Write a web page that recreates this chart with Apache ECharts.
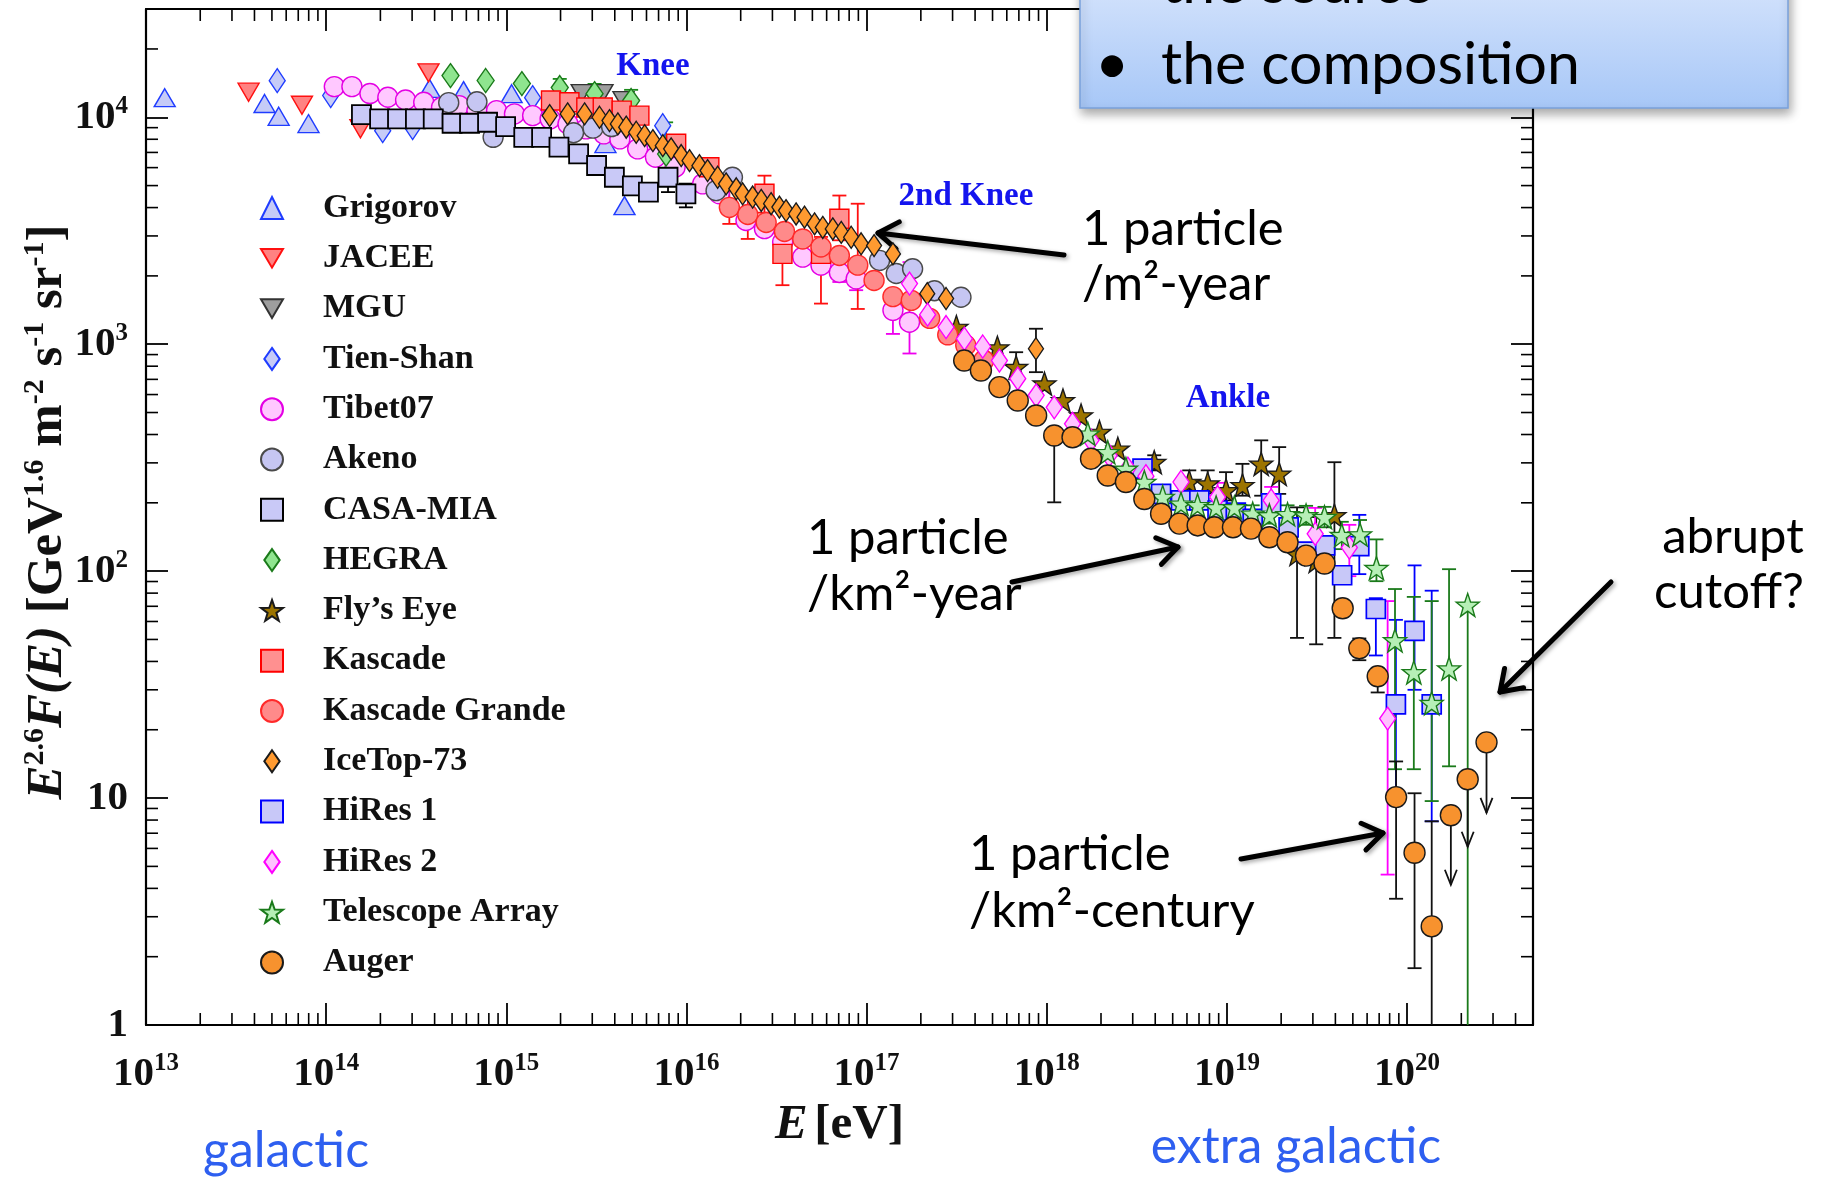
<!DOCTYPE html>
<html>
<head>
<meta charset="utf-8">
<script src="https://cdn.jsdelivr.net/npm/echarts/dist/echarts.min.js"></script>
<style>
  html, body { margin: 0; padding: 0; background: #ffffff; }
  #chart { width: 1826px; height: 1181px; }
</style>
</head>
<body>
<div id="chart"></div>
<script>
// ---- Axis ranges (energy in eV, flux scaled by E^2.6) ----
const X_MIN = 1e13, X_MAX = 5e20;
const Y_MIN = 1, Y_MAX = 3e4;

// ---- Measurements: [E (eV), E^2.6 F(E)] ----
const grigorov = [[1.27e13,12200],[4.55e13,11500],[5.45e13,10100],[7.98e13,9380],[3.75e14,13400],[5.79e14,13100],[1.07e15,12700],[3.55e15,7660],[4.53e15,4080]];
const jacee = [[3.71e13,12900],[7.34e13,11300],[1.55e14,8900],[3.70e14,15700]];
const mgu = [[2.62e15,12710],[3.42e15,12710],[4.47e15,11850]];
const tienShan = [[5.35e13,14500],[1.06e14,12470],[2.06e14,8730],[3.02e14,9010],[1.40e15,12200],[7.38e15,9180]];
const tibet07 = [[1.11e14,13650],[1.39e14,13650],[1.75e14,12720],[2.20e14,12250],[2.76e14,11920],[3.48e14,11640],[4.37e14,11070],[5.47e14,11260],[6.87e14,10700],[8.83e14,10700],[1.11e15,10350],[1.40e15,10170],[1.75e15,9840],[2.20e15,9350],[2.77e15,8890],[3.48e15,8450],[4.27e15,8030],[5.36e15,7260],[6.73e15,6670],[8.65e15,6020],[1.23e16,5090],[1.52e16,4600],[2.14e16,3510],[2.71e16,3230],[3.42e16,2820],[4.42e16,2420],[5.58e16,2230],[7.06e16,2070],[8.75e16,1940],[1.40e17,1410],[1.73e17,1250]];
const akeno = [[4.79e14,11600],[6.87e14,11700],[8.45e14,8160],[2.36e15,8550],[3.03e15,8960],[3.84e15,9100],[1.46e16,4750],[1.80e16,5440],[1.18e17,2340],[1.46e17,2050],[1.80e17,2150],[2.38e17,1720],[3.34e17,1610]];
const casaMia = [[1.57e14,10280],[1.98e14,9840],[2.49e14,9840],[3.13e14,9840],[3.93e14,9840],[5.00e14,9410],[6.25e14,9410],[7.87e14,9510],[9.91e14,9100],[1.25e15,8160],[1.57e15,8160],[1.96e15,7380],[2.52e15,6900],[3.17e15,6130],[3.98e15,5440],[5.01e15,4990],[6.15e15,4680],[7.90e15,5440],[9.93e15,4600]];
const hegra = [[4.90e14,15270],[7.68e14,14520],[1.22e15,14070],[1.98e15,13520],[3.09e15,12710],[4.93e15,11850],[7.71e15,6890]];
const flysEye = [[3.15e17,1190],[5.32e17,966],[6.76e17,792],[9.71e17,670],[1.23e18,565],[1.55e18,485],[1.96e18,410],[2.48e18,346],[3.95e18,302],[6.18e18,247],[7.82e18,243],[9.89e18,227],[1.22e19,239],[1.55e19,297],[1.95e19,268],[2.45e19,119],[3.13e19,111],[3.95e19,176]];
const kascade = [[1.77e15,11850],[2.24e15,11650],[2.78e15,11040],[3.43e15,11040],[4.37e15,10700],[5.48e15,10170],[8.77e15,7640],[1.34e16,6020],[2.71e16,4600],[3.41e16,2500],[5.58e16,2500],[7.06e16,3570]];
const kascadeGrande = [[1.73e16,4010],[2.19e16,3730],[2.77e16,3440],[3.50e16,3140],[4.42e16,2910],[5.58e16,2680],[7.06e16,2460],[8.93e16,2230],[1.10e17,1910],[1.40e17,1620],[1.77e17,1560],[2.24e17,1300],[2.82e17,1100],[3.55e17,990],[4.47e17,850]];
const iceTop73 = [[1.74e15,10170],[2.19e15,10350],[2.72e15,10350],[3.29e15,10000],[3.74e15,9670],[4.16e15,9350],[4.63e15,9040],[5.26e15,8590],[5.86e15,8300],[6.51e15,7890],[7.39e15,7500],[8.22e15,7260],[9.35e15,6780],[1.04e16,6440],[1.18e16,6120],[1.31e16,5820],[1.49e16,5440],[1.66e16,5090],[1.89e16,4840],[2.05e16,4600],[2.33e16,4450],[2.60e16,4300],[2.95e16,4160],[3.28e16,4020],[3.57e16,3880],[4.06e16,3750],[4.52e16,3630],[5.14e16,3390],[5.71e16,3270],[6.49e16,3220],[7.23e16,3110],[8.21e16,2960],[9.32e16,2770],[1.10e17,2720],[1.40e17,2500],[2.17e17,1670],[2.76e17,1590],[8.71e17,955]];
const hiRes1 = [[3.40e18,283],[4.31e18,219],[5.56e18,205],[7.03e18,205],[8.87e18,185],[1.12e19,181],[1.39e19,170],[1.76e19,199],[2.20e19,156],[2.77e19,122],[3.51e19,130],[4.36e19,95.9],[5.43e19,129],[6.71e19,68.1],[8.67e19,25.9],[1.10e20,54.6],[1.37e20,25.9]];
const hiRes2 = [[1.73e17,1850],[2.18e17,1350],[2.76e17,1190],[3.49e17,1057],[4.41e17,977],[5.46e17,847],[6.90e17,705],[8.73e17,595],[1.10e18,527],[1.39e18,446],[1.76e18,377],[2.22e18,323],[2.82e18,283],[3.55e18,262],[5.56e18,247],[8.87e18,212],[1.76e19,205],[3.09e19,146],[4.78e19,127],[7.80e19,22.4]];
const telescopeArray = [[1.69e18,403],[2.18e18,334],[2.75e18,282],[3.48e18,247],[4.40e18,212],[5.56e18,198],[6.87e18,195],[8.71e18,191],[1.10e19,191],[1.39e19,179],[1.72e19,176],[2.17e19,178],[2.75e19,176],[3.48e19,173],[4.34e19,144],[5.48e19,145],[6.76e19,103],[8.57e19,49.5],[1.09e20,35.8],[1.37e20,26.2],[1.71e20,37.2],[2.17e20,71]];
const auger = [[3.48e17,847],[4.31e17,766],[5.46e17,647],[6.90e17,565],[8.73e17,485],[1.10e18,396],[1.39e18,389],[1.76e18,313],[2.18e18,264],[2.75e18,247],[3.48e18,208],[4.31e18,179],[5.45e18,162],[6.88e18,159],[8.51e18,156],[1.08e19,156],[1.36e19,154],[1.72e19,141],[2.17e19,134],[2.75e19,117],[3.48e19,108],[4.39e19,68.6],[5.43e19,45.7],[6.87e19,34.4],[8.69e19,10.1],[1.10e20,5.74],[1.37e20,2.72],[1.75e20,8.4],[2.17e20,12.1],[2.76e20,17.6]];

// ---- Uncertainties: [E, lower, upper] ----
const tibet07Err = [[7.06e16,1880,2200],[8.75e16,1730,2100],[1.40e17,1110,1670],[1.73e17,910,1560]];
const casaMiaErr = [[7.90e15,4680,5900],[9.93e15,4010,5100]];
const hegraErr = [[1.98e15,12400,14760],[3.09e15,11500,14030],[4.93e15,10600,13210],[7.71e15,5090,9500]];
const flysEyeErr = [[6.76e17,700,922],[3.95e18,278,324],[6.18e18,225,278],[7.82e18,220,278],[9.89e18,205,273],[1.22e19,215,297],[1.55e19,215,377],[1.95e19,219,352],[2.45e19,50.8,191],[3.13e19,47.6,173],[3.95e19,50.8,302]];
const kascadeErr = [[2.71e16,3800,5530],[3.41e16,1820,3330],[5.58e16,1510,2970],[7.06e16,2870,4520]];
const kascadeGrandeErr = [[1.73e16,3390,4750],[2.19e16,2910,4520],[8.93e16,1430,4160]];
const iceTop73Err = [[8.71e17,753,1170]];
const hiRes1Err = [[5.43e19,97,177],[6.71e19,42.5,76],[8.67e19,9.3,61],[1.10e20,30,106],[1.37e20,7.9,82]];
const hiRes2Err = [[1.73e17,1455,2300],[8.87e18,185,245],[1.76e19,180,235],[3.09e19,115,190],[4.78e19,95,160],[7.80e19,4.6,73.8]];
const telescopeArrayErr = [[1.39e19,165,195],[1.72e19,162,192],[2.17e19,163,195],[2.75e19,160,194],[3.48e19,156,192],[4.34e19,125,165],[5.48e19,125,168],[6.76e19,90.3,138],[8.57e19,13.4,83.4],[1.09e20,13.4,77],[1.37e20,9.7,73.8],[1.71e20,13.8,102],[2.17e20,1,71]];
const augerErr = [[1.10e18,201,396],[5.43e19,40.5,50.5],[6.87e19,29.2,37.2],[8.69e19,3.6,14.5],[1.10e20,1.78,10.5],[1.37e20,1,7.9]];
// upper limits: [E, value, arrow end]
const augerLimits = [[1.75e20,8.4,4.15],[2.17e20,12.1,6.1],[2.76e20,17.6,8.6]];

// ---- Tick labels ----
const xDecades = [13, 14, 15, 16, 17, 18, 19, 20];
const yDecades = [0, 1, 2, 3, 4];

// minor tick positions (2..9 x 10^n) inside the axis ranges
const minorX = [];
xDecades.forEach(d => { for (let m = 2; m <= 9; m++) { const v = m * Math.pow(10, d); if (v <= X_MAX) minorX.push([v, Y_MIN]); } });
const minorY = [];
yDecades.forEach(d => { for (let m = 2; m <= 9; m++) { const v = m * Math.pow(10, d); if (v <= Y_MAX) minorY.push([X_MIN, v]); } });

const SERIF = 'Liberation Serif, Times New Roman, serif';
const HAND = 'Lato, Open Sans, sans-serif';

const DOWN_TRI = 'path://M0,0L20,0L10,17Z';
const DIAMOND = 'path://M7,0L14,10L7,20L0,10Z';
const STAR = 'path://M10,0L12.35,6.76L19.51,6.91L13.8,11.24L15.88,18.09L10,14L4.12,18.09L6.2,11.24L0.49,6.91L7.65,6.76Z';

function pts(name, data, symbol, size, fill, stroke, bw) {
  return {
    type: 'scatter', name, data, symbol, symbolSize: size,
    itemStyle: { color: fill, borderColor: stroke, borderWidth: bw || 1.4, opacity: 1 },
    emphasis: { disabled: true }, silent: true, z: 3
  };
}

function errBars(name, data, color, cap) {
  return {
    type: 'custom', name: name + ' errors', data, silent: true, z: 3,
    encode: { x: 0, y: [1, 2] },
    renderItem: function (params, api) {
      const x = api.value(0), lo = api.value(1), hi = api.value(2);
      const a = api.coord([x, hi]), b = api.coord([x, lo]);
      const st = { stroke: color, lineWidth: 1.8 };
      const ch = [{ type: 'line', shape: { x1: a[0], y1: a[1], x2: b[0], y2: b[1] }, style: st }];
      const w = cap || 7;
      ch.push({ type: 'line', shape: { x1: a[0] - w, y1: a[1], x2: a[0] + w, y2: a[1] }, style: st });
      if (lo > Y_MIN) ch.push({ type: 'line', shape: { x1: b[0] - w, y1: b[1], x2: b[0] + w, y2: b[1] }, style: st });
      return { type: 'group', children: ch };
    }
  };
}

function limitArrows(name, data, color) {
  return {
    type: 'custom', name: name + ' limits', data, silent: true, z: 3,
    encode: { x: 0, y: [1, 2] },
    renderItem: function (params, api) {
      const x = api.value(0), v = api.value(1), end = api.value(2);
      const a = api.coord([x, v]), b = api.coord([x, end]);
      const st = { stroke: color, lineWidth: 1.8 };
      return { type: 'group', children: [
        { type: 'line', shape: { x1: a[0], y1: a[1], x2: b[0], y2: b[1] }, style: st },
        { type: 'polyline', shape: { points: [[b[0] - 6, b[1] - 15], [b[0], b[1]], [b[0] + 6, b[1] - 15]] }, style: Object.assign({ fill: null }, st) }
      ] };
    }
  };
}

const minorLen = 12;
const minorTicksX = {
  type: 'custom', name: 'minor-x', data: minorX, silent: true, z: 5, clip: false,
  encode: { x: 0, y: 1 },
  renderItem: function (params, api) {
    const v = api.value(0);
    const b = api.coord([v, Y_MIN]), t = api.coord([v, Y_MAX]);
    const st = { stroke: '#000', lineWidth: 1.6 };
    return { type: 'group', children: [
      { type: 'line', shape: { x1: b[0], y1: b[1], x2: b[0], y2: b[1] - minorLen }, style: st },
      { type: 'line', shape: { x1: t[0], y1: t[1], x2: t[0], y2: t[1] + minorLen }, style: st }
    ] };
  }
};
const minorTicksY = {
  type: 'custom', name: 'minor-y', data: minorY, silent: true, z: 5, clip: false,
  encode: { x: 0, y: 1 },
  renderItem: function (params, api) {
    const v = api.value(1);
    const l = api.coord([X_MIN, v]), r = api.coord([X_MAX, v]);
    const st = { stroke: '#000', lineWidth: 1.6 };
    return { type: 'group', children: [
      { type: 'line', shape: { x1: l[0], y1: l[1], x2: l[0] + minorLen, y2: l[1] }, style: st },
      { type: 'line', shape: { x1: r[0], y1: r[1], x2: r[0] - minorLen, y2: r[1] }, style: st }
    ] };
  }
};

function powLabel(v, plain) {
  const lg = Math.log10(v), e = Math.round(lg);
  if (Math.abs(lg - e) > 1e-6) return '';
  if (plain && e === 0) return '{b|1}';
  if (plain && e === 1) return '{b|10}';
  return '{b|10}{s|' + e + '}';
}
const tickRich = {
  b: { fontFamily: SERIF, fontWeight: 'bold', fontSize: 41, lineHeight: 46, color: '#111' },
  s: { fontFamily: SERIF, fontWeight: 'bold', fontSize: 25, lineHeight: 25, verticalAlign: 'top', color: '#111' }
};

const axisLine = { show: true, lineStyle: { color: '#000', width: 2.2 } };
const majorTick = { show: true, inside: true, length: 22, lineStyle: { color: '#000', width: 1.8 } };

// ---- Annotation arrows ----
function arrow(x1, y1, x2, y2) {
  const ang = Math.atan2(y2 - y1, x2 - x1), L = 24, sp = 0.6;
  const p1 = [x2 - L * Math.cos(ang - sp), y2 - L * Math.sin(ang - sp)];
  const p2 = [x2 - L * Math.cos(ang + sp), y2 - L * Math.sin(ang + sp)];
  const st = { stroke: '#000', lineWidth: 5, lineCap: 'round', lineJoin: 'round', fill: null,
               shadowBlur: 4, shadowColor: 'rgba(0,0,0,0.35)', shadowOffsetX: 2, shadowOffsetY: 2 };
  return { type: 'group', z: 20, children: [
    { type: 'line', shape: { x1, y1, x2, y2 }, style: st },
    { type: 'polyline', shape: { points: [p1, [x2, y2], p2] }, style: st }
  ] };
}
function note(text, x, y, opts) {
  return { type: 'text', z: 20, style: Object.assign({ text, x, y, fontFamily: HAND, fontSize: 49,
    fill: '#000', textAlign: 'left', textVerticalAlign: 'middle', verticalAlign: 'middle' }, opts || {}) };
}
function tag(text, x, y) {
  return { type: 'text', z: 20, style: { text, x, y, fontFamily: SERIF, fontWeight: 'bold', fontSize: 33,
    fill: '#1414ee', textAlign: 'center', textVerticalAlign: 'middle', verticalAlign: 'middle' } };
}

const chart = echarts.init(document.getElementById('chart'), null, { renderer: 'canvas' });

chart.setOption({
  animation: false,
  backgroundColor: '#ffffff',
  grid: { left: 146, right: 293, top: 9, bottom: 156, containLabel: false },
  xAxis: [
    { type: 'log', logBase: 10, min: X_MIN, max: X_MAX, position: 'bottom',
      axisLine, axisTick: majorTick, splitLine: { show: false }, minorTick: { show: false },
      axisLabel: { margin: 26, formatter: v => powLabel(v, false), rich: tickRich, showMinLabel: true, showMaxLabel: false },
      name: '{i|E}  {b|[eV]}', nameLocation: 'middle', nameGap: 76,
      nameTextStyle: { rich: {
        i: { fontFamily: SERIF, fontStyle: 'italic', fontWeight: 'bold', fontSize: 49, color: '#111' },
        b: { fontFamily: SERIF, fontWeight: 'bold', fontSize: 49, color: '#111' } } } },
    { type: 'log', logBase: 10, min: X_MIN, max: X_MAX, position: 'top',
      axisLine, axisTick: majorTick, splitLine: { show: false }, axisLabel: { show: false } }
  ],
  yAxis: [
    { type: 'log', logBase: 10, min: Y_MIN, max: Y_MAX, position: 'left',
      axisLine, axisTick: majorTick, splitLine: { show: false },
      axisLabel: { margin: 18, formatter: v => powLabel(v, true), rich: tickRich, showMinLabel: true, showMaxLabel: false } },
    { type: 'log', logBase: 10, min: Y_MIN, max: Y_MAX, position: 'right',
      axisLine, axisTick: majorTick, splitLine: { show: false }, axisLabel: { show: false } }
  ],
  legend: {
    orient: 'vertical', left: 255, top: 186, itemWidth: 22, itemHeight: 22, itemGap: 16.3,
    selectedMode: false,
    textStyle: { fontFamily: SERIF, fontWeight: 'bold', fontSize: 34, lineHeight: 34, color: '#111', padding: [0, 0, 0, 35] },
    data: [
      { name: 'Grigorov', icon: 'triangle' },
      { name: 'JACEE', icon: DOWN_TRI },
      { name: 'MGU', icon: DOWN_TRI },
      { name: 'Tien-Shan', icon: DIAMOND },
      { name: 'Tibet07', icon: 'circle' },
      { name: 'Akeno', icon: 'circle' },
      { name: 'CASA-MIA', icon: 'rect' },
      { name: 'HEGRA', icon: DIAMOND },
      { name: 'Fly\u2019s Eye', icon: STAR },
      { name: 'Kascade', icon: 'rect' },
      { name: 'Kascade Grande', icon: 'circle' },
      { name: 'IceTop-73', icon: DIAMOND },
      { name: 'HiRes 1', icon: 'rect' },
      { name: 'HiRes 2', icon: DIAMOND },
      { name: 'Telescope Array', icon: STAR },
      { name: 'Auger', icon: 'circle' }
    ]
  },
  series: [
    minorTicksX, minorTicksY,
    pts('Grigorov', grigorov, 'triangle', [21, 18], '#c6cbf7', '#1f3cff'),
    pts('JACEE', jacee, DOWN_TRI, [21, 18], '#ff8282', '#ff1010'),
    pts('MGU', mgu, DOWN_TRI, [21, 18], '#9e9e9e', '#333333'),
    pts('Tien-Shan', tienShan, DIAMOND, [16, 24], '#c6cbf7', '#1f3cff'),
    errBars('Tibet07', tibet07Err, '#ee00ee'),
    pts('Tibet07', tibet07, 'circle', 20, '#ffc8ff', '#e400e4'),
    pts('Akeno', akeno, 'circle', 20, '#c6c6f2', '#4a4a4a'),
    errBars('CASA-MIA', casaMiaErr, '#000000'),
    pts('CASA-MIA', casaMia, 'rect', 19, '#c9c9f7', '#000000', 1.8),
    errBars('HEGRA', hegraErr, '#1a8a1a'),
    pts('HEGRA', hegra, DIAMOND, [17, 24], '#8fe58f', '#1a7a1a'),
    errBars('Fly\u2019s Eye', flysEyeErr, '#111111'),
    pts('Fly\u2019s Eye', flysEye, STAR, 23, '#9c7400', '#1a1a1a'),
    errBars('Kascade', kascadeErr, '#ff1010'),
    pts('Kascade', kascade, 'rect', 19, '#ff9090', '#ff0000'),
    errBars('Kascade Grande', kascadeGrandeErr, '#ff1010'),
    pts('Kascade Grande', kascadeGrande, 'circle', 20, '#ff8a8a', '#ff2a2a'),
    errBars('IceTop-73', iceTop73Err, '#111111'),
    pts('IceTop-73', iceTop73, DIAMOND, [15, 22], '#ff9a30', '#1a1a1a'),
    errBars('HiRes 1', hiRes1Err, '#0000ff'),
    pts('HiRes 1', hiRes1, 'rect', 19, '#c8c8f8', '#0000ff', 1.7),
    errBars('HiRes 2', hiRes2Err, '#ff00ff'),
    pts('HiRes 2', hiRes2, DIAMOND, [16, 23], '#ffc2ff', '#ff00ff'),
    errBars('Telescope Array', telescopeArrayErr, '#1a7a1a'),
    pts('Telescope Array', telescopeArray, STAR, 23, '#b6efb6', '#1a7a1a'),
    errBars('Auger', augerErr, '#111111'),
    limitArrows('Auger', augerLimits, '#111111'),
    pts('Auger', auger, 'circle', 21, '#f7922e', '#1a1a1a')
  ],
  graphic: [
    // vertical axis title
    { type: 'text', z: 20, x: 48, y: 512, rotation: Math.PI / 2,
      style: { text: '{i|E}{s|2.6}{i|F(E)}{b| [GeV}{s|1.6}{b| m}{s|-2}{b| s}{s|-1}{b| sr}{s|-1}{b|]}',
        align: 'center', verticalAlign: 'middle', textAlign: 'center', textVerticalAlign: 'middle',
        rich: {
          i: { fontFamily: SERIF, fontStyle: 'italic', fontWeight: 'bold', fontSize: 51, lineHeight: 56, fill: '#111', color: '#111' },
          b: { fontFamily: SERIF, fontWeight: 'bold', fontSize: 51, lineHeight: 56, fill: '#111', color: '#111' },
          s: { fontFamily: SERIF, fontWeight: 'bold', fontSize: 30, lineHeight: 30, verticalAlign: 'top', fill: '#111', color: '#111' } } } },

    // summary box in the upper right
    { type: 'rect', z: 30, shape: { x: 1080, y: -40, width: 708, height: 148 },
      style: { fill: new echarts.graphic.LinearGradient(0, 0, 0, 1, [
                 { offset: 0, color: '#dce8fd' }, { offset: 1, color: '#a7c7f7' }]),
               stroke: '#79a1db', lineWidth: 1.5,
               shadowBlur: 10, shadowOffsetX: 2, shadowOffsetY: 5, shadowColor: 'rgba(0,0,0,0.35)' } },
    { type: 'text', z: 31, style: { text: '\u2022', x: 1112, y: -16, fontFamily: HAND, fontSize: 59, fill: '#000', textAlign: 'center', verticalAlign: 'middle', textVerticalAlign: 'middle' } },
    { type: 'text', z: 31, style: { text: 'the source', x: 1161, y: -16, fontFamily: HAND, fontSize: 59, fill: '#000', textAlign: 'left', verticalAlign: 'middle', textVerticalAlign: 'middle' } },
    { type: 'text', z: 31, style: { text: '\u2022', x: 1112, y: 65, fontFamily: HAND, fontSize: 59, fill: '#000', textAlign: 'center', verticalAlign: 'middle', textVerticalAlign: 'middle' } },
    { type: 'text', z: 31, style: { text: 'the composition', x: 1161, y: 65, fontFamily: HAND, fontSize: 59, fill: '#000', textAlign: 'left', verticalAlign: 'middle', textVerticalAlign: 'middle' } },

    tag('Knee', 653, 66),
    tag('2nd Knee', 966, 196),
    tag('Ankle', 1228, 398),

    note('1 particle', 1082, 229),
    note('/m\u00b2-year', 1082, 284),
    arrow(1064, 255, 878, 233),

    note('1 particle', 807, 538),
    note('/km\u00b2-year', 807, 594),
    arrow(1012, 582, 1178, 547),

    note('1 particle', 969, 854),
    note('/km\u00b2-century', 969, 911),
    arrow(1241, 859, 1383, 833),

    note('abrupt', 1733, 537, { textAlign: 'center' }),
    note('cutoff?', 1729, 592, { textAlign: 'center' }),
    arrow(1611, 582, 1500, 692),

    note('galactic', 286, 1151, { textAlign: 'center', fill: '#2e5ff0', fontSize: 50 }),
    note('extra galactic', 1296, 1147, { textAlign: 'center', fill: '#2e5ff0', fontSize: 50 })
  ]
});
</script>
</body>
</html>
